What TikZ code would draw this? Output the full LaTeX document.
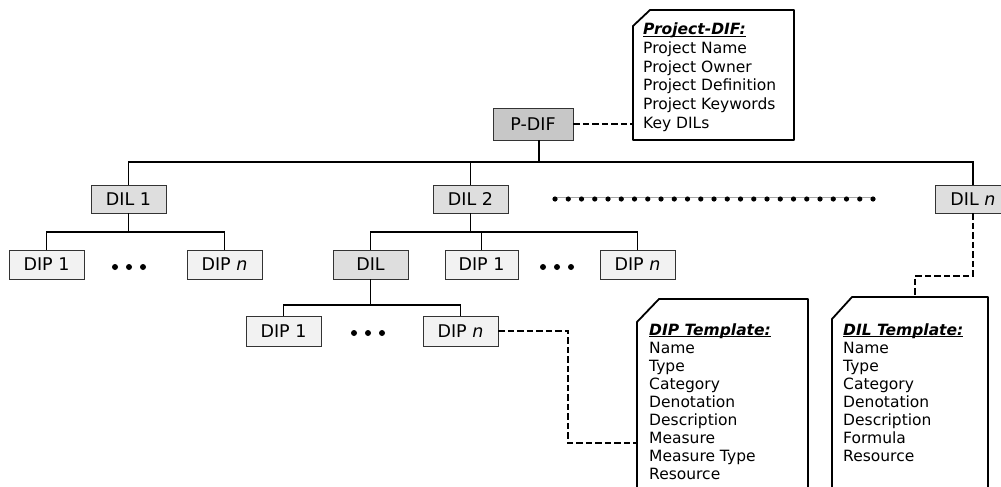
\documentclass[tikz,border=0pt]{standalone}
\usepackage{fontspec}
\setmainfont{DejaVu Sans}
\newcommand\myul[1]{\setbox0\hbox{#1}\rlap{\rule[-2.2pt]{\wd0}{1.1pt}}\box0}
\begin{document}
\begin{tikzpicture}[x=1pt,y=-1pt,
  box/.style={draw=black!80, line width=0.8pt, inner sep=0pt, minimum width=75pt, minimum height=28pt, font=\fontsize{17.5}{20}\selectfont},
  pdifbox/.style={box, fill=black!22, minimum width=80pt, minimum height=32pt},
  dilbox/.style={box, fill=black!13},
  dipbox/.style={box, fill=black!5, minimum height=29pt},
  tree/.style={line width=1.1pt, black},
  dashline/.style={line width=2.8pt, dash pattern=on 6.5pt off 3pt},
  tplframe/.style={line width=1.8pt, line join=round},
  tpltext/.style={anchor=base west, inner sep=0pt, font=\fontsize{15.5}{18}\selectfont},
  bigdot/.style={fill=black},
]
\useasboundingbox (0,0) rectangle (1001,487);

% boxes
\node[pdifbox] (pdif) at (533,124) {P-DIF};
\node[dilbox] (dil1) at (128.5,199) {DIL 1};
\node[dilbox] (dil2) at (470.5,199) {DIL 2};
\node[dilbox, minimum width=76pt] (diln) at (973,199) {DIL \textit{n}};
\node[dipbox] (dip1a) at (46.5,264.5) {DIP 1};
\node[dipbox] (dipna) at (224.5,264.5) {DIP \textit{n}};
\node[dilbox, minimum height=29pt] (dilb) at (370.5,264.5) {DIL};
\node[dipbox, minimum width=73pt] (dip1b) at (481.5,264.5) {DIP 1};
\node[dipbox] (dipnb) at (637.5,264.5) {DIP \textit{n}};
\node[dipbox, minimum height=30pt] (dip1c) at (283.5,331) {DIP 1};
\node[dipbox, minimum height=30pt] (dipnc) at (460.5,331) {DIP \textit{n}};

% junction coordinates
\coordinate (bus) at (539,162);
\coordinate (b2) at (0,232);
\coordinate (b3) at (0,305);

% tree connectors
\draw[tree] (dil1.north) -- (dil1.north |- bus) -- (diln.north |- bus) -- (diln.north);
\draw[tree] (dil2.north) -- (dil2.north |- bus);
\draw[tree] ([xshift=6pt]pdif.south) -- ([xshift=6pt]pdif.south |- bus);
\draw[tree] (dip1a.north) -- (dip1a.north |- b2) -- (dipna.north |- b2) -- (dipna.north);
\draw[tree] (dil1.south) -- (dil1.south |- b2);
\draw[tree] (dilb.north) -- (dilb.north |- b2) -- (dipnb.north |- b2) -- (dipnb.north);
\draw[tree] (dip1b.north) -- (dip1b.north |- b2);
\draw[tree] (dil2.south) -- (dil2.south |- b2);
\draw[tree] (dip1c.north) -- (dip1c.north |- b3) -- (dipnc.north |- b3) -- (dipnc.north);
\draw[tree] (dilb.south) -- (dilb.south |- b3);

% dots
\draw[black!35, line width=0.8pt] (555,197) -- (873,197);
\foreach \i in {0,...,24} \fill[bigdot] ({555+\i*13.25},199) circle (2.6pt);
\foreach \x in {115,129,143} \fill[bigdot] (\x,267) circle (3pt);
\foreach \x in {543,557,571} \fill[bigdot] (\x,267) circle (3pt);
\foreach \x in {354,368,382} \fill[bigdot] (\x,333) circle (3pt);

% template frames
\draw[tplframe] (633,140) -- (633,26) -- (650,10) -- (794,10) -- (794,140) -- cycle;
\draw[tplframe] (637,500) -- (637,322) -- (659,299) -- (808,299) -- (808,500);
\draw[tplframe] (832,500) -- (832,319) -- (852,297) -- (988,297) -- (988,500);

\coordinate (projT) at (633,124);
\coordinate (dipT) at (637,443);
\coordinate (dilT) at (915,297);
\coordinate (c1) at (568,443);
\coordinate (c2) at (915,276);

% dashed connectors
\draw[dashline] (pdif.east) -- (projT);
\draw[dashline] (dipnc.east) -| (c1) -- (dipT);
\draw[dashline] (diln.south) |- (c2) -- (dilT);

% template texts
\node[tpltext] (projtitle) at (643,35) {\bfseries\itshape\myul{Project-DIF:}};
\foreach \t [count=\i] in {Project Name,Project Owner,Project Definition,Project Keywords,Key DILs}
  \node[tpltext] (projl\i) at (643,{35+\i*18.6}) {\t};

\node[tpltext] (diptitle) at (649,335) {\bfseries\itshape\myul{DIP Template:}};
\foreach \t [count=\i] in {Name,Type,Category,Denotation,Description,Measure,Measure Type,Resource}
  \node[tpltext] (dipl\i) at (649,{335+\i*18.1}) {\t};

\node[tpltext] (diltitle) at (843,335) {\bfseries\itshape\myul{DIL Template:}};
\foreach \t [count=\i] in {Name,Type,Category,Denotation,Description,Formula,Resource}
  \node[tpltext] (dill\i) at (843,{335+\i*18.1}) {\t};
\end{tikzpicture}
\end{document}
